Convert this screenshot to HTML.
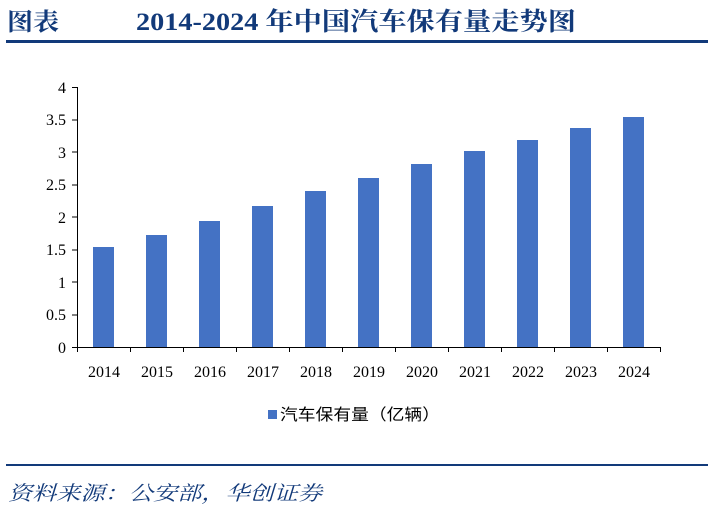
<!DOCTYPE html>
<html><head><meta charset="utf-8"><style>
body{margin:0;background:#fff;width:722px;height:509px;overflow:hidden}
</style></head><body>
<svg width="722" height="509" xmlns="http://www.w3.org/2000/svg" font-family="'Liberation Serif','Noto Serif CJK SC',serif">
<text x="7" y="30" font-size="24" font-weight="bold" fill="#123a7a" textLength="52" lengthAdjust="spacingAndGlyphs">图表</text>
<text x="136" y="30" font-size="25" font-weight="bold" fill="#123a7a" textLength="440" lengthAdjust="spacingAndGlyphs">2014-2024 年中国汽车保有量走势图</text>
<rect x="6" y="40" width="702" height="3" fill="#123a7a"/>
<g fill="#4472c4">
<rect x="93" y="247" width="21" height="100"/>
<rect x="146" y="235" width="21" height="112"/>
<rect x="199" y="221" width="21" height="126"/>
<rect x="252" y="206" width="21" height="141"/>
<rect x="305" y="191" width="21" height="156"/>
<rect x="358" y="178" width="21" height="169"/>
<rect x="411" y="164" width="21" height="183"/>
<rect x="464" y="151" width="21" height="196"/>
<rect x="517" y="140" width="21" height="207"/>
<rect x="570" y="128" width="21" height="219"/>
<rect x="623" y="117" width="21" height="230"/>
</g>
<g stroke="#000" stroke-width="1" fill="none">
<path d="M77.5 87V347.5H660"/>
<path d="M72 87.5H77.5M72 120H77.5M72 152H77.5M72 185H77.5M72 217H77.5M72 250H77.5M72 282H77.5M72 315H77.5M72 347.5H77.5"/>
<path d="M77.5 347V352M130.5 347V352M183.5 347V352M236.5 347V352M289.5 347V352M342.5 347V352M395.5 347V352M448.5 347V352M501.5 347V352M554.5 347V352M607.5 347V352M660.5 347V352"/>
</g>
<g font-size="16" fill="#000" text-anchor="end">
<text x="66" y="93">4</text><text x="66" y="125">3.5</text><text x="66" y="158">3</text><text x="66" y="190">2.5</text><text x="66" y="223">2</text><text x="66" y="255">1.5</text><text x="66" y="288">1</text><text x="66" y="320">0.5</text><text x="66" y="353">0</text>
</g>
<g font-size="16" fill="#000" text-anchor="middle">
<text x="104" y="377">2014</text><text x="157" y="377">2015</text><text x="210" y="377">2016</text><text x="263" y="377">2017</text><text x="316" y="377">2018</text><text x="369" y="377">2019</text><text x="422" y="377">2020</text><text x="475" y="377">2021</text><text x="528" y="377">2022</text><text x="581" y="377">2023</text><text x="634" y="377">2024</text>
</g>
<rect x="268" y="410" width="9" height="9" fill="#4472c4"/>
<text x="280" y="420" font-size="16" font-family="'Noto Sans CJK SC',sans-serif" fill="#000" textLength="160" lengthAdjust="spacingAndGlyphs">汽车保有量（亿辆）</text>
<rect x="6" y="464" width="702" height="2" fill="#123a7a"/>
<text x="8" y="500" font-size="20" font-style="italic" fill="#123a7a" font-family="'Noto Serif CJK SC',serif" textLength="314" lengthAdjust="spacingAndGlyphs">资料来源：公安部，华创证券</text>
</svg>
</body></html>
